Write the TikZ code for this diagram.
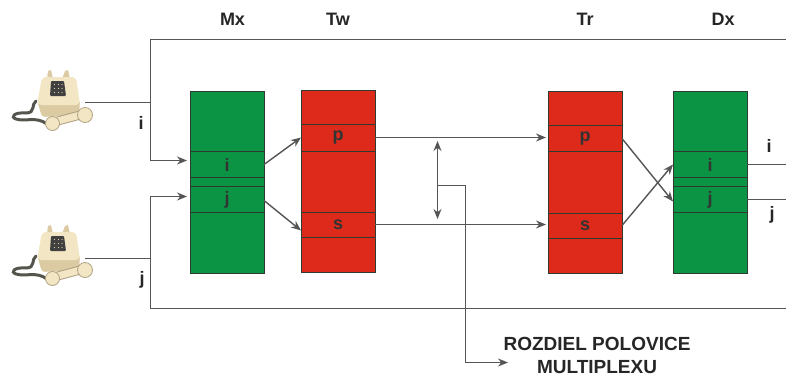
\documentclass[tikz,border=0pt]{standalone}
\usepackage{fontspec}
\setmainfont{Liberation Sans}
\usetikzlibrary{arrows.meta}
\definecolor{gbox}{HTML}{0B9444}
\definecolor{rbox}{HTML}{DE2A1B}
\definecolor{linec}{HTML}{555555}
\definecolor{edgec}{HTML}{2F3A30}
\definecolor{beige}{HTML}{F3E6C4}
\definecolor{beiged}{HTML}{DCCBA2}
\definecolor{cordc}{HTML}{55554E}
\tikzset{
  block/.style={draw=edgec,line width=0.9pt,anchor=north west,minimum width=74pt,inner sep=0pt,outer sep=0pt},
  gblock/.style={block,fill=gbox},
  rblock/.style={block,fill=rbox},
  cellbox/.style={draw=edgec,line width=1pt,anchor=north west,minimum width=74pt,inner sep=0pt,outer sep=0pt,font=\bfseries\fontsize{18}{18}\selectfont,text=black!80},
  conn/.style={draw=linec,line width=1.4pt},
  arr/.style={conn,-{Stealth[length=10pt,width=8pt]}},
  lbl/.style={font=\bfseries\fontsize{18}{18}\selectfont,text=black!85,inner sep=0pt},
  sidelbl/.style={font=\bfseries\fontsize{18}{18}\selectfont,text=black!85,inner sep=0pt},
  note/.style={font=\bfseries\fontsize{19}{19}\selectfont,text=black!85,inner sep=0pt}
}
\newcommand{\phonepic}[1]{%
\begin{scope}[yshift=-#1pt]
  % cord
  \draw[cordc,line width=3pt,line cap=round]
    (36,101) .. controls (31,104) and (36,113) .. (26,113)
    .. controls (14,112) and (10,117) .. (16,119)
    .. controls (26,122) and (36,116) .. (47,124);
  % horns
  \fill[beiged] (47,79) -- (48,71) -- (51,70) -- (53,79) -- cycle;
  \fill[beiged] (62,79) -- (65,71) -- (68,70) -- (70,79) -- cycle;
  % base and body
  \fill[beiged,rounded corners=3pt] (37,100) -- (80,100) -- (79,115) -- (42,117) -- cycle;
  \fill[beige,rounded corners=4pt] (42,77) -- (76,77) -- (80,105) -- (37,105) -- cycle;
  % keypad
  \fill[black!75,rounded corners=1pt] (51,81) -- (64,81) -- (66,96) -- (50,96) -- cycle;
  \foreach \a in {54.5,58.5,62}\foreach \b in {84.5,88.5,92.5}\fill[beiged] (\a,\b) circle (0.7pt);
  % handset
  \draw[beiged!80!black,line width=9pt,line cap=round] (54,122) -- (84,114);
  \draw[beige,line width=7pt,line cap=round] (54,122) -- (84,114);
  \fill[beige,draw=beiged!80!black,line width=0.8pt] (52.5,123.5) circle (7pt);
  \fill[beige,draw=beiged!80!black,line width=0.8pt] (85,115) circle (7.5pt);
\end{scope}}
\begin{document}
\begin{tikzpicture}[x=1pt,y=-1pt]
\useasboundingbox[fill=white] (0,0) rectangle (786,383);
\phonepic{0}
\phonepic{155}
% headings
\node[lbl] (hmx) at (232.5,19) {Mx};
\node[lbl] (htw) at (338,19) {Tw};
\node[lbl] (htr) at (585,19) {Tr};
\node[lbl] (hdx) at (723,19) {Dx};
% Mx
\node[gblock,minimum height=182pt] (mx) at (190,91.5) {};
\node[cellbox,minimum height=26pt] (mxi) at (190,151.5) {i};
\node[cellbox,minimum height=26pt] (mxj) at (190,186.5) {j};
% Tw
\node[rblock,minimum height=182.5pt] (tw) at (301,90) {};
\node[cellbox,minimum height=27pt] (twp) at (301,124) {p};
\node[cellbox,minimum height=25pt] (tws) at (301,212) {s};
% Tr
\node[rblock,minimum height=182pt] (tr) at (548,91.5) {};
\node[cellbox,minimum height=26pt] (trp) at (548,125.5) {p};
\node[cellbox,minimum height=25pt] (trs) at (548,213) {s};
% Dx
\node[gblock,minimum height=182pt] (dx) at (673,91.5) {};
\node[cellbox,minimum height=26pt] (dxi) at (673,151.5) {i};
\node[cellbox,minimum height=26pt] (dxj) at (673,186.5) {j};
% free ends
\coordinate (ph1) at (85,102.5);
\coordinate (ph2) at (85,258.5);
\coordinate (j1) at (150.5,102.5);
\coordinate (j2) at (150.5,258.5);
\coordinate (tl) at (150.5,39.5);
\coordinate (tr0) at (786,39.5);
\coordinate (bl) at (150.5,308.5);
\coordinate (br) at (786,308.5);
\coordinate (in1) at (187,160.5);
\coordinate (in2) at (187,196.5);
\coordinate (ci) at (150.5,160.5);
\coordinate (cj) at (150.5,196.5);
\coordinate (dt) at (437.5,141);
\coordinate (db) at (437.5,219);
\coordinate (dm) at (437.5,185.5);
\coordinate (bt) at (465.5,185.5);
\coordinate (bb) at (465.5,362.5);
\coordinate (be) at (508,362.5);
\coordinate (oi) at (786,164.5);
\coordinate (oj) at (786,199.5);
% connectors
\draw[conn] (tr0) -- (tl) -- (j1);
\draw[conn] (ph1) -- (j1);
\draw[arr] (j1) -- (ci) -- (in1);
\draw[conn] (br) -- (bl) -- (j2);
\draw[conn] (ph2) -- (j2);
\draw[arr] (j2) -- (cj) -- (in2);
\draw[arr] (mxi.east) -- (twp.west);
\draw[arr] ([yshift=-1pt]mxj.east) -- ([yshift=-6pt]tws.west);
\draw[arr] (twp.east) -- ([xshift=-2pt]twp.east -| trp.west);
\draw[arr] (tws.east) -- ([xshift=-2pt]tws.east -| trs.west);
\draw[conn,{Stealth[length=10pt,width=8pt]}-{Stealth[length=10pt,width=8pt]}] (dt) -- (db);
\draw[arr] (dm) -- (bt) -- (bb) -- (be);
\draw[arr] (trp.east) -- ([yshift=-2pt]dxj.west);
\draw[arr] (trs.east) -- (dxi.west);
\draw[conn] (dxi.east) -- (oi);
\draw[conn] (dxj.east) -- (oj);
% labels
\node[sidelbl] (li1) at (141,123) {i};
\node[sidelbl] (lj1) at (142,280) {j};
\node[sidelbl] (li2) at (769,146) {i};
\node[sidelbl] (lj2) at (772,215) {j};
\node[note,align=center] (nt) at (597,355.5) {ROZDIEL POLOVICE\\[4pt]MULTIPLEXU};
\end{tikzpicture}
\end{document}
